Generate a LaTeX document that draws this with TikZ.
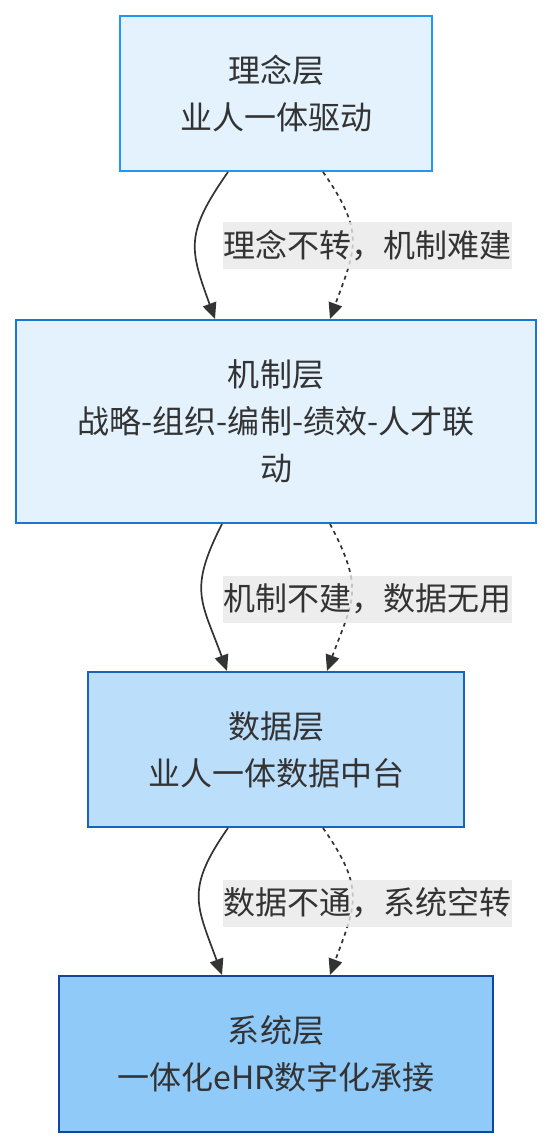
\documentclass[tikz,border=0pt]{standalone}
\usepackage{fontspec}
\setmainfont{Noto Sans CJK SC}
\usetikzlibrary{arrows.meta}
\definecolor{txt}{HTML}{333333}
\definecolor{lblbg}{HTML}{E8E8E8}
\definecolor{fillA}{HTML}{E3F2FD}
\definecolor{drawA}{HTML}{2196F3}
\definecolor{drawB}{HTML}{1976D2}
\definecolor{fillC}{HTML}{BBDEFB}
\definecolor{drawC}{HTML}{1565C0}
\definecolor{fillD}{HTML}{90CAF9}
\definecolor{drawD}{HTML}{0D47A1}
\tikzset{
  layer/.style={rectangle, inner sep=0pt, line width=2bp, text=txt, align=center,
    font=\fontsize{32bp}{47bp}\selectfont},
  edgelbl/.style={rectangle, inner sep=0pt, fill=lblbg, fill opacity=0.8, text opacity=1,
    text=txt, minimum height=47bp, minimum width=289bp, font=\fontsize{32bp}{47bp}\selectfont},
  conn/.style={draw=txt, line width=1.7bp, -{Triangle[length=16bp,width=14bp]}, looseness=1.3},
  dotconn/.style={conn, dash pattern=on 4bp off 4bp}
}
\begin{document}
\begin{tikzpicture}[x=1bp,y=1bp]
\useasboundingbox (0,0) rectangle (552,-1148);
\node[layer, fill=fillA, draw=drawA, minimum width=312bp, minimum height=155bp] (b1) at (276,-93.5) {理念层\\业人一体驱动};
\node[layer, fill=fillA, draw=drawB, minimum width=520bp, minimum height=203bp] (b2) at (276,-421.5) {机制层\\战略-组织-编制-绩效-人才联\\动};
\node[layer, fill=fillC, draw=drawC, minimum width=376bp, minimum height=155bp] (b3) at (276,-749.5) {数据层\\业人一体数据中台};
\node[layer, fill=fillD, draw=drawD, minimum width=434bp, minimum height=156bp] (b4) at (276,-1054) {系统层\\一体化eHR数字化承接};

\draw[conn] ([xshift=-48bp]b1.south) to[out=235,in=110] ([xshift=-61bp]b2.north);
\draw[dotconn] ([xshift=47bp]b1.south) to[out=305,in=70] ([xshift=54bp]b2.north);
\draw[conn] ([xshift=-54bp]b2.south) to[out=243,in=110] ([xshift=-49bp]b3.north);
\draw[dotconn] ([xshift=54bp]b2.south) to[out=298,in=70] ([xshift=51bp]b3.north);
\draw[conn] ([xshift=-48bp]b3.south) to[out=235,in=110] ([xshift=-54bp]b4.north);
\draw[dotconn] ([xshift=47bp]b3.south) to[out=305,in=70] ([xshift=54bp]b4.north);

\node[edgelbl] (l1) at (367,-245) {理念不转，机制难建};
\node[edgelbl] (l2) at (367,-599) {机制不建，数据无用};
\node[edgelbl] (l3) at (367,-903) {数据不通，系统空转};
\end{tikzpicture}
\end{document}
